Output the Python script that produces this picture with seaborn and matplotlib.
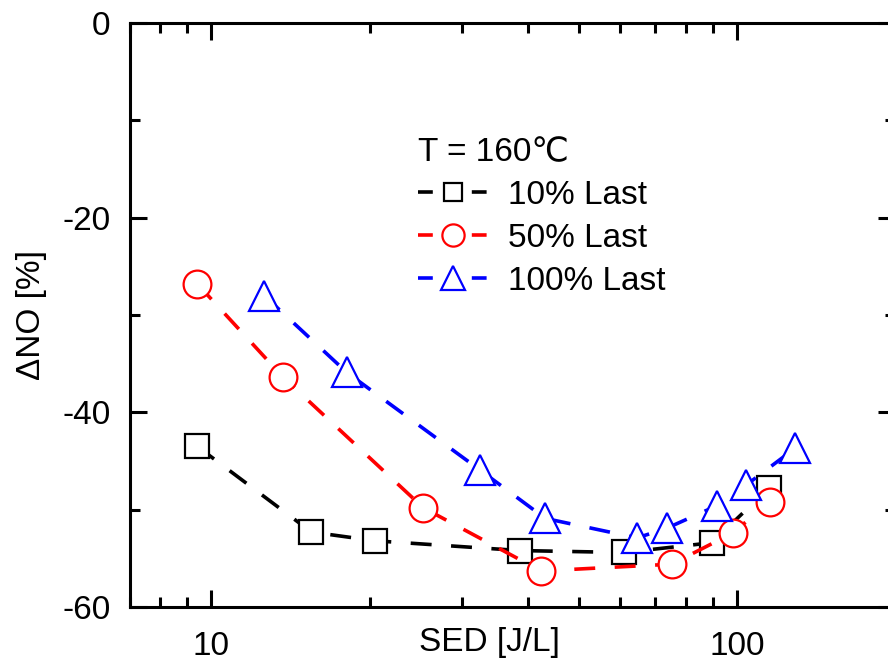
import matplotlib
matplotlib.use("Agg")
import matplotlib.pyplot as plt
from matplotlib.lines import Line2D
from matplotlib.ticker import LogLocator, FixedLocator, FixedFormatter, MultipleLocator, NullFormatter
import seaborn as sns
import pandas as pd

# data
sed_10 = [9.4, 15.5, 20.5, 38.6, 61.0, 89.6, 115.0]
dno_10 = [-43.5, -52.3, -53.2, -54.2, -54.4, -53.4, -47.8]

sed_50 = [9.4, 13.7, 25.3, 42.4, 75.2, 98.2, 115.6]
dno_50 = [-26.8, -36.4, -49.8, -56.3, -55.6, -52.4, -49.2]

sed_100 = [12.6, 18.1, 32.4, 43.2, 64.6, 73.6, 91.6, 104.0, 129.0]
dno_100 = [-28.0, -35.9, -45.9, -50.9, -52.9, -51.9, -49.6, -47.5, -43.7]

series_labels = ["10% Last", "50% Last", "100% Last"]
legend_title = "T = 160\u2103"
x_label = "SED [J/L]"
y_label = "\u0394NO [%]"
x_ticks = [10, 100]
x_ticklabels = ["10", "100"]

sns.set_theme(style="ticks")
plt.rcParams["font.family"] = ["Liberation Sans", "DejaVu Sans"]
plt.rcParams.update({"font.size": 24, "axes.linewidth": 2.2,
                     "axes.unicode_minus": False,
                     "text.color": "black", "axes.labelcolor": "black",
                     "xtick.color": "black", "ytick.color": "black",
                     "axes.edgecolor": "black",
                     "xtick.direction": "in", "ytick.direction": "in",
                     "axes.labelsize": 24, "xtick.labelsize": 24, "ytick.labelsize": 24})

fig = plt.figure(figsize=(8.88, 6.62), dpi=100)
W, H = 888, 662
ax = fig.add_axes([130 / W, 1 - 607 / H, (895 - 130) / W, (607 - 23) / H])

lw = 2.6
dash = (0, (5.8, 5.4))
styles = [
    (sed_10, dno_10, "black", "s", 17),
    (sed_50, dno_50, "red", "o", 20),
    (sed_100, dno_100, "blue", "^", 22),
]
handles = []
for (xs, ys, col, mk, ms), lab in zip(styles, series_labels):
    df = pd.DataFrame({"sed": xs, "dno": ys})
    sns.lineplot(data=df, x="sed", y="dno", ax=ax, color=col, lw=lw,
                 linestyle=dash, marker=mk, ms=ms, mfc="white", mec=col,
                 mew=1.6, sort=False)
    handles.append(Line2D([], [], color=col, lw=lw,
                          linestyle=(0, (4.1, 10.8, 4.1, 10.8)),
                          marker=mk, ms=ms * 0.8, mfc="white", mec=col, mew=1.6,
                          label=lab))

ax.set_xscale("log")
ax.set_xlim(7, 200)
ax.set_ylim(-60, 0)
ax.xaxis.set_major_locator(FixedLocator(x_ticks))
ax.xaxis.set_major_formatter(FixedFormatter(x_ticklabels))
ax.xaxis.set_minor_locator(LogLocator(base=10, subs=range(2, 10)))
ax.xaxis.set_minor_formatter(NullFormatter())
ax.yaxis.set_major_locator(MultipleLocator(20))
ax.yaxis.set_minor_locator(MultipleLocator(10))

ax.tick_params(which="both", direction="in", top=True, right=True, width=2.2,
               color="black", labelcolor="black")
ax.tick_params(which="major", length=12)
ax.tick_params(which="minor", length=7)
ax.tick_params(axis="x", which="major", pad=17)
ax.tick_params(axis="y", which="major", pad=14)
for sp in ax.spines.values():
    sp.set_color("black")

ax.set_xlabel(x_label, color="black")
ax.set_ylabel(y_label, color="black")
ax.xaxis.set_label_coords(0.47, -0.034)
ax.yaxis.set_label_coords(-0.108, 0.5)

leg = ax.legend(handles=handles, title=legend_title, loc="upper left",
                bbox_to_anchor=(0.376, 0.805), frameon=False, borderpad=0,
                borderaxespad=0, handlelength=2.13, handletextpad=0.57,
                labelspacing=0.36, title_fontsize=24, fontsize=24)
leg._legend_box.align = "left"
for t in leg.get_texts():
    t.set_color("black")
leg.get_title().set_color("black")

fig.savefig("out.png", dpi=100)
